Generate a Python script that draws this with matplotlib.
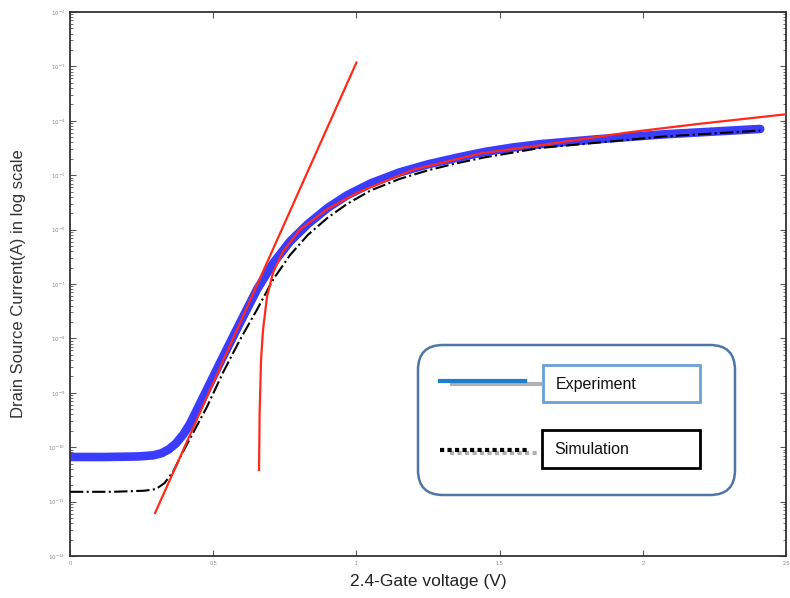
import matplotlib
matplotlib.use("Agg")
import matplotlib.pyplot as plt
from matplotlib.patches import FancyBboxPatch, Rectangle
from matplotlib.ticker import LogLocator, FuncFormatter, MultipleLocator
import numpy as np

plt.rcParams['font.family'] = ['Liberation Sans', 'DejaVu Sans']

# experiment (blue), gate voltage in V, log10 of current in A
exp_v = [0.0, 0.12, 0.24, 0.29, 0.32, 0.345, 0.37, 0.395, 0.419, 0.478, 0.534, 0.594, 0.653, 0.709,
         0.768, 0.83, 0.9, 0.967, 1.05, 1.15, 1.25, 1.35, 1.45, 1.547, 1.641, 1.84, 2.07, 2.41]
exp_log = [-10.18, -10.18, -10.17, -10.15, -10.11, -10.04, -9.93, -9.77, -9.57, -8.94, -8.34, -7.71,
           -7.10, -6.62, -6.22, -5.90, -5.60, -5.37, -5.15, -4.95, -4.80, -4.68, -4.57, -4.49,
           -4.43, -4.34, -4.25, -4.15]

# simulation (black dash-dot)
sim_v = [0.0, 0.15, 0.26, 0.3, 0.33, 0.36, 0.395, 0.478, 0.534, 0.594, 0.653, 0.709,
         0.768, 0.83, 0.9, 0.967, 1.05, 1.15, 1.25, 1.35, 1.45, 1.641, 2.07, 2.41]
sim_log = [-10.82, -10.82, -10.80, -10.77, -10.66, -10.45, -10.08, -9.26, -8.63, -8.02, -7.47, -6.92,
           -6.47, -6.10, -5.78, -5.53, -5.28, -5.07, -4.91, -4.78, -4.67, -4.50, -4.29, -4.18]

# subthreshold tangent (red straight)
tan_v = [0.297, 1.0]
tan_log = [-11.21, -2.93]

# above-threshold fit (red curve)
fit_v = [0.66, 0.662, 0.667, 0.674, 0.688, 0.709, 0.744, 0.803, 0.9, 1.0, 1.198, 1.432, 1.641, 1.955, 2.19, 2.5]
fit_log = [-10.42, -9.40, -8.40, -7.84, -7.23, -6.79, -6.40, -6.00, -5.62, -5.33, -4.90, -4.60, -4.45, -4.21, -4.06, -3.88]

fig = plt.figure(figsize=(7.9, 5.98), dpi=100)
ax = fig.add_axes([70/790, 42/598, 716/790, 544/598])

ax.plot(exp_v, 10**np.array(exp_log), color='#3a3cff', lw=6.2, solid_capstyle='round',
        solid_joinstyle='round', zorder=2)
ax.plot(sim_v, 10**np.array(sim_log), color='black', lw=1.5, ls='-.', zorder=3)
ax.plot(tan_v, 10**np.array(tan_log), color='#ff2a1a', lw=1.6, zorder=4)
ax.plot(fit_v, 10**np.array(fit_log), color='#ff2a1a', lw=1.6, zorder=4)

ax.set_yscale('log')
ax.set_ylim(1e-12, 1e-2)
ax.set_xlim(0, 2.5)
ax.yaxis.set_major_locator(LogLocator(base=10, numticks=20))
ax.yaxis.set_minor_locator(LogLocator(base=10, subs=np.arange(2, 10), numticks=20))
ax.yaxis.set_major_formatter(FuncFormatter(lambda v, p: r'$10^{%d}$' % round(np.log10(v))))
ax.yaxis.set_minor_formatter(FuncFormatter(lambda v, p: ''))
ax.xaxis.set_major_locator(MultipleLocator(0.5))
ax.xaxis.set_major_formatter(FuncFormatter(lambda v, p: '%g' % v))
ax.tick_params(which='both', direction='in', top=True, right=True, labelsize=4,
               labelcolor='#888888', color='#555555')
ax.tick_params(which='major', length=4)
ax.tick_params(which='minor', length=2)
for s in ax.spines.values():
    s.set_linewidth(1.3)
    s.set_color('#333333')

ax.set_ylabel('Drain Source Current(A) in log scale', fontsize=12, color='#333333', labelpad=16)
ax.set_xlabel('2.4-Gate voltage (V)', fontsize=12.5, color='#222222', labelpad=6)

# legend drawn as a separate box in pixel coordinates
ov = fig.add_axes([0, 0, 1, 1])
ov.set_xlim(0, 790)
ov.set_ylim(598, 0)
ov.set_xticks([])
ov.set_yticks([])
ov.axis('off')
ov.patch.set_visible(False)

ov.add_patch(FancyBboxPatch((418, 345), 317, 150, boxstyle='round,pad=0,rounding_size=25',
                            fc='white', ec='#4e77a8', lw=1.8))
ov.plot([452, 540], [384, 384], color='#b0b0b0', lw=3)
ov.plot([440, 525], [381, 381], color='#1a7fcc', lw=3)
ov.add_patch(Rectangle((543, 365), 157, 37, fc='white', ec='#6a9fd8', lw=2))
ov.text(556, 384, 'Experiment', fontsize=11.5, va='center', ha='left', color='#111111')

ov.plot([450, 540], [453, 453], color='#b0b0b0', lw=3, ls=(0, (1, 0.8)))
ov.plot([440, 528], [450, 450], color='black', lw=3, ls=(0, (1, 0.8)))
ov.add_patch(Rectangle((542, 430), 158, 38, fc='white', ec='black', lw=2))
ov.text(554, 450, 'Simulation', fontsize=11.5, va='center', ha='left', color='#111111')

fig.savefig('out.png', dpi=100)
